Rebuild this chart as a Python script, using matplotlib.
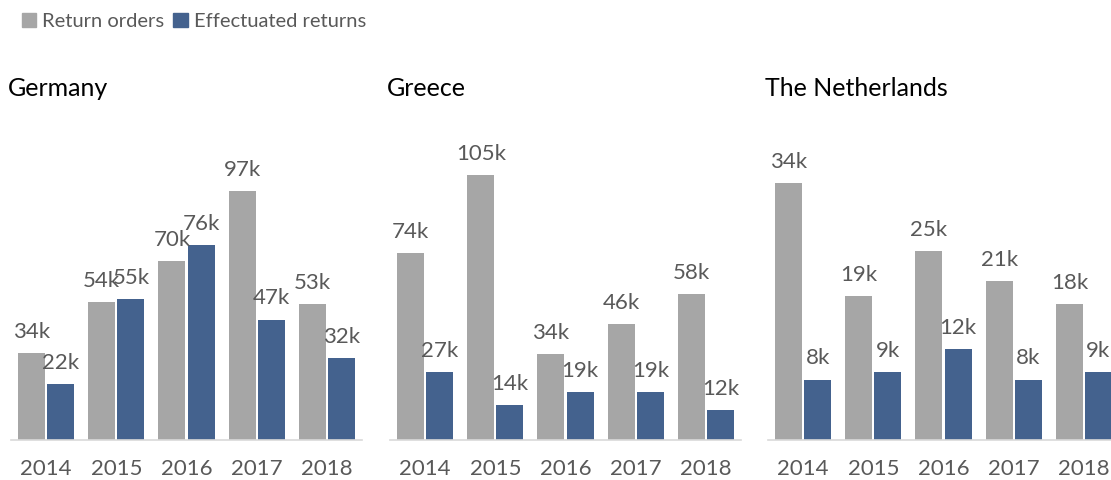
import matplotlib
matplotlib.use('Agg')
import matplotlib.pyplot as plt
from matplotlib.patches import Patch
import numpy as np

plt.rcParams['font.family'] = ['Lato', 'DejaVu Sans']

years = ['2014', '2015', '2016', '2017', '2018']
countries = ['Germany', 'Greece', 'The Netherlands']

# values in thousands
germany_orders = [34, 54, 70, 97, 53]
germany_returns = [22, 55, 76, 47, 32]
greece_orders = [74, 105, 34, 46, 58]
greece_returns = [27, 14, 19, 19, 12]
nl_orders = [34, 19, 25, 21, 18]
nl_returns = [8, 9, 12, 8, 9]

# upper y limit per panel (each panel has its own scale)
y_tops = [121, 123, 41]

grey = '#A6A6A6'
blue = '#44628E'
text_grey = '#595959'

W, H = 1111, 480
fig = plt.figure(figsize=(W / 100, H / 100), dpi=100)

orders = [germany_orders, greece_orders, nl_orders]
returns = [germany_returns, greece_returns, nl_returns]
lefts = [11, 390, 768]
ax_w = 351
ax_bottom = 440
ax_top = 130

x = np.arange(len(years))
bw = 0.385
for i, name in enumerate(countries):
    ax = fig.add_axes([lefts[i] / W, 1 - ax_bottom / H, ax_w / W, (ax_bottom - ax_top) / H])
    b1 = ax.bar(x - bw / 2 - 0.015, orders[i], bw, color=grey)
    b2 = ax.bar(x + bw / 2 + 0.015, returns[i], bw, color=blue)
    for bars, vals in [(b1, orders[i]), (b2, returns[i])]:
        for rect, v in zip(bars, vals):
            ax.annotate(f'{v}k', (rect.get_x() + rect.get_width() / 2, v),
                        xytext=(0, 8), textcoords='offset points',
                        ha='center', va='bottom', fontsize=16, color=text_grey)
    ax.set_xlim(-0.5, 4.5)
    ax.set_ylim(0, y_tops[i])
    ax.set_xticks(x)
    ax.set_xticklabels(years, fontsize=16, color=text_grey)
    ax.tick_params(axis='x', length=0, pad=14)
    ax.set_yticks([])
    for s in ['top', 'right', 'left']:
        ax.spines[s].set_visible(False)
    ax.spines['bottom'].set_color('#D9D9D9')
    ax.spines['bottom'].set_linewidth(1.2)
    fig.text((lefts[i] - 3) / W, 1 - 88 / H, name, fontsize=18, color='black',
             ha='left', va='center')

handles = [Patch(color=grey, label='Return orders'),
           Patch(color=blue, label='Effectuated returns')]
fig.legend(handles=handles, loc='upper left', bbox_to_anchor=(8 / W, 1 + 1 / H),
           ncol=2, frameon=False, fontsize=14.5, labelcolor=text_grey,
           handlelength=0.7, handleheight=0.7, handletextpad=0.3,
           columnspacing=0.45, borderpad=0.2)

fig.savefig('out.png', dpi=100)
